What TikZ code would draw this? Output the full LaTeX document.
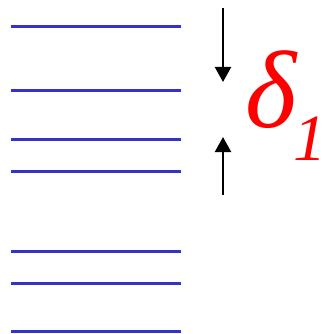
\documentclass[tikz,border=0pt]{standalone}
\usepackage{fontspec}
\setmainfont{Liberation Serif}
\usetikzlibrary{arrows.meta}
\definecolor{levelblue}{HTML}{3333CC}

\begin{document}
\begin{tikzpicture}[
  x=1pt, y=-1pt,
  level/.style={
    draw=levelblue,
    line width=3pt
  },
  gap/.style={
    line width=2.2pt,
    -{Triangle[length=15pt,width=16pt]}
  }
]
\useasboundingbox (0,0) rectangle (321,334);

\foreach \ypos [count=\i] in {27,91,139,171,251,283,331}
  \draw[level] (11,\ypos) -- (181,\ypos);

\coordinate (topstart) at (223,8);
\coordinate (topend) at (223,82);
\coordinate (botstart) at (223,195);
\coordinate (botend) at (223,137);

\draw[gap] (topstart) -- (topend);
\draw[gap] (botstart) -- (botend);

\node[anchor=base west, inner sep=0pt, text=red] (delta) at (245,127)
  {\fontsize{110}{110}\selectfont\itshape δ\kern-3pt\raisebox{-33pt}{\fontsize{66}{66}\selectfont 1}};

\end{tikzpicture}
\end{document}
